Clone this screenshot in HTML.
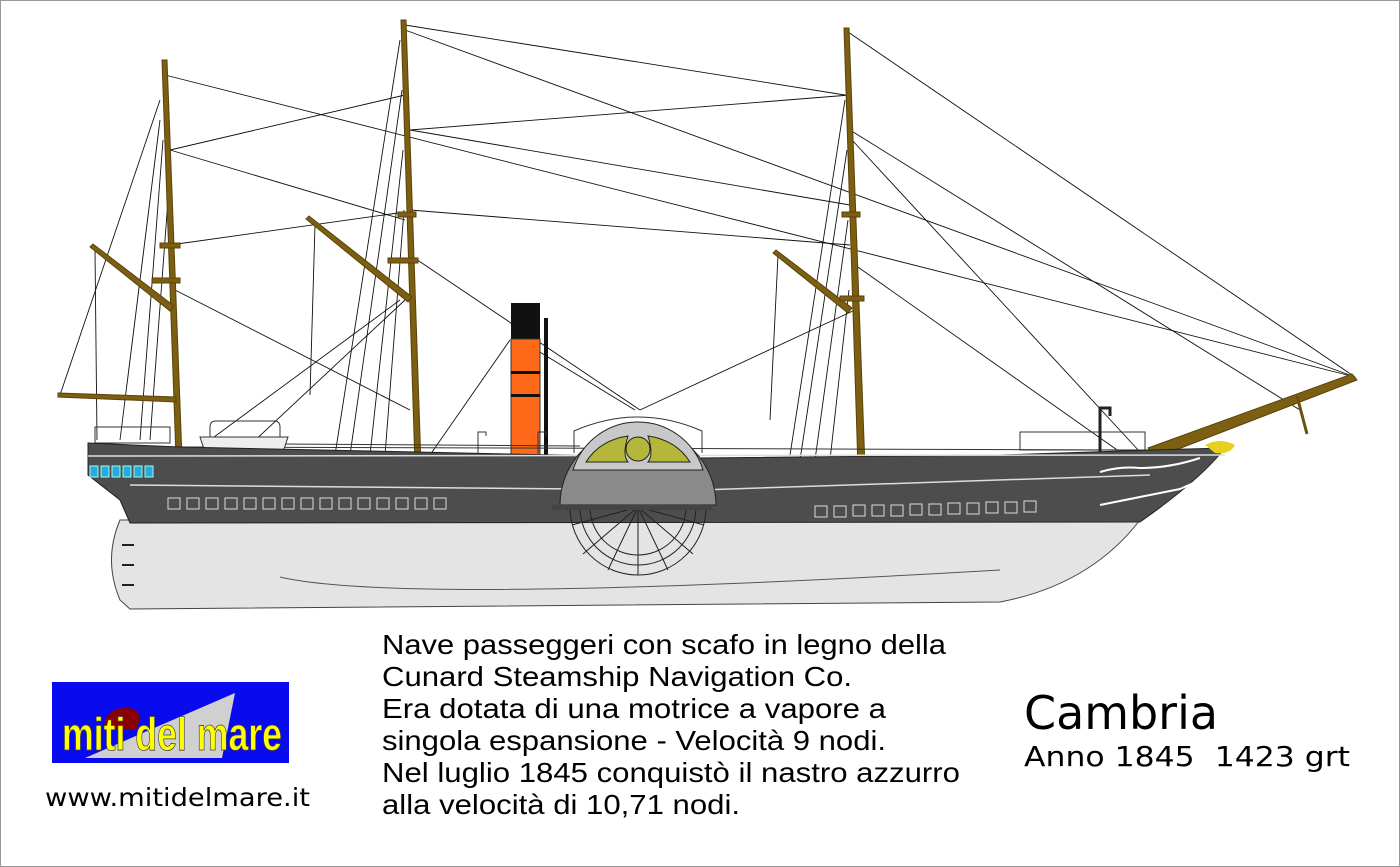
<!DOCTYPE html>
<html><head><meta charset="utf-8"><style>
html,body{margin:0;padding:0;background:#fff}
svg{display:block}
text{font-family:"Liberation Sans",sans-serif}
</style></head><body>
<svg width="1400" height="867" viewBox="0 0 1400 867" xmlns="http://www.w3.org/2000/svg">
<rect x="0.5" y="0.5" width="1399" height="866" fill="#fff" stroke="#999"/>
<!-- rigging -->
<g stroke="#111" stroke-width="0.9" fill="none">
<line x1="165" y1="75" x2="1355" y2="377"/>
<line x1="405" y1="25" x2="845" y2="95"/>
<line x1="405" y1="30" x2="1355" y2="377"/>
<line x1="848" y1="32" x2="1355" y2="377"/>
<line x1="850" y1="130" x2="1300" y2="410"/>
<line x1="852" y1="140" x2="1140" y2="452"/>
<line x1="855" y1="265" x2="1120" y2="452"/>
<line x1="850" y1="95" x2="410" y2="130"/>
<line x1="170" y1="150" x2="405" y2="95"/>
<line x1="170" y1="150" x2="405" y2="220"/>
<line x1="170" y1="245" x2="405" y2="212"/>
<line x1="410" y1="130" x2="850" y2="205"/>
<line x1="410" y1="210" x2="850" y2="245"/>
<line x1="175" y1="290" x2="410" y2="410"/>
<line x1="410" y1="255" x2="640" y2="410"/>
<line x1="855" y1="310" x2="640" y2="410"/>
<line x1="520" y1="340" x2="635" y2="410"/>
<line x1="160" y1="100" x2="60" y2="395"/>
<line x1="160" y1="120" x2="120" y2="440"/>
<line x1="163" y1="140" x2="140" y2="440"/>
<line x1="168" y1="200" x2="150" y2="440"/>
<line x1="95" y1="250" x2="97" y2="440"/>
<line x1="400" y1="40" x2="335" y2="455"/>
<line x1="402" y1="90" x2="350" y2="455"/>
<line x1="403" y1="150" x2="370" y2="455"/>
<line x1="404" y1="210" x2="385" y2="455"/>
<line x1="315" y1="225" x2="310" y2="395"/>
<line x1="400" y1="300" x2="210" y2="440"/>
<line x1="405" y1="300" x2="250" y2="445"/>
<line x1="845" y1="100" x2="790" y2="455"/>
<line x1="847" y1="150" x2="800" y2="460"/>
<line x1="848" y1="220" x2="815" y2="460"/>
<line x1="849" y1="290" x2="830" y2="460"/>
<line x1="778" y1="255" x2="770" y2="420"/>
<line x1="510" y1="340" x2="430" y2="455"/>
</g>
<!-- masts -->
<g stroke="#5a430a" stroke-width="1" fill="#7d5f12">
<polygon points="162,60 167,60 182,458 176,458"/>
<polygon points="401,20 406,20 421,466 415,466"/>
<polygon points="844,28 849,28 865,468 858,468"/>
<polygon points="90,247 93,244 174,306 170,311"/>
<polygon points="58,393 176,397 176,402 58,397"/>
<polygon points="306,219 309,216 412,297 408,302"/>
<polygon points="773,253 776,250 852,308 848,313"/>
<rect x="160" y="243" width="20" height="5"/><rect x="152" y="278" width="28" height="5"/>
<rect x="398" y="212" width="18" height="5"/><rect x="388" y="258" width="30" height="5"/>
<rect x="842" y="212" width="18" height="5"/><rect x="840" y="296" width="24" height="5"/>
<polygon points="1148,448 1352,374 1357,380 1155,458"/>
<line x1="1297" y1="396" x2="1307" y2="434" stroke-width="3" stroke="#6b520e"/>
</g>
<!-- funnel -->
<rect x="511" y="303" width="29" height="36" fill="#111"/>
<rect x="511" y="339" width="29" height="118" fill="#ff6a1a" stroke="#333"/>
<rect x="511" y="371" width="29" height="3" fill="#111"/><rect x="511" y="394" width="29" height="3" fill="#111"/>
<rect x="544" y="318" width="4" height="152" fill="#111"/>
<!-- railings -->
<g stroke="#333" stroke-width="1" fill="none">
<rect x="95" y="427" width="75" height="16"/>
<line x1="180" y1="447" x2="1150" y2="450"/>
<line x1="280" y1="444" x2="580" y2="446"/>
<rect x="1020" y="432" width="125" height="18"/>
<path d="M478 470 V432 h8 v4"/><path d="M538 470 V432 h8 v4"/>
<path d="M1100 452 V408 h10 v8" stroke="#222" stroke-width="3"/>
</g>
<!-- lifeboats -->
<path d="M200 437 L288 437 L283 452 Q245 458 205 452 Z" fill="#eee" stroke="#333"/>
<path d="M210 437 v-10 q0-6 6-6 h58 q6 0 6 6 v10" fill="none" stroke="#333"/>
<path d="M462 456 L540 456 L535 466 L467 466 Z" fill="#eee" stroke="#333"/>
<!-- hull lower -->
<path d="M120 520 L1140 520 Q1090 585 1000 602 L130 609 L120 600 Q103 560 120 520 Z" fill="#e4e4e4" stroke="#444"/>
<path d="M280 577 Q400 605 1000 570" fill="none" stroke="#555"/>
<!-- hull upper -->
<path d="M88 443 L180 447 L700 458 L1000 455 L1150 450 L1225 448 Q1200 480 1140 522 L130 523 L120 500 L88 475 Z" fill="#4d4d4d" stroke="#222"/>
<line x1="88" y1="456" x2="1225" y2="455" stroke="#ddd" stroke-width="1.5"/>
<path d="M130 485 L700 490 L1150 475" fill="none" stroke="#ddd" stroke-width="1.5"/>
<g fill="#2aa8e0" stroke="#9fe"><rect x="90" y="466" width="8" height="11"/><rect x="101" y="466" width="8" height="11"/><rect x="112" y="466" width="8" height="11"/><rect x="123" y="466" width="8" height="11"/><rect x="134" y="466" width="8" height="11"/><rect x="145" y="466" width="8" height="11"/></g>
<g fill="none" stroke="#ddd">
<rect x="168" y="498" width="12" height="11"/><rect x="187" y="498" width="12" height="11"/><rect x="206" y="498" width="12" height="11"/><rect x="225" y="498" width="12" height="11"/><rect x="244" y="498" width="12" height="11"/><rect x="263" y="498" width="12" height="11"/><rect x="282" y="498" width="12" height="11"/><rect x="301" y="498" width="12" height="11"/><rect x="320" y="498" width="12" height="11"/><rect x="339" y="498" width="12" height="11"/><rect x="358" y="498" width="12" height="11"/><rect x="377" y="498" width="12" height="11"/><rect x="396" y="498" width="12" height="11"/><rect x="415" y="498" width="12" height="11"/><rect x="434" y="498" width="12" height="11"/>
<rect x="815" y="506" width="12" height="11"/><rect x="834" y="506" width="12" height="11"/><rect x="853" y="505" width="12" height="11"/><rect x="872" y="505" width="12" height="11"/><rect x="891" y="505" width="12" height="11"/><rect x="910" y="504" width="12" height="11"/><rect x="929" y="504" width="12" height="11"/><rect x="948" y="503" width="12" height="11"/><rect x="967" y="503" width="12" height="11"/><rect x="986" y="502" width="12" height="11"/><rect x="1005" y="502" width="12" height="11"/><rect x="1024" y="501" width="12" height="11"/>
<path d="M1100 472 q20-6 40-4 q30 0 60-10 M1100 505 q40-8 80-16 q20-8 40-22" stroke="#fff" stroke-width="2"/>
</g>
<path d="M1205 445 q15-8 30 0 q-5 10-20 8 z" fill="#e8d020"/>
<!-- rudder marks -->
<g stroke="#222" stroke-width="2"><line x1="122" y1="545" x2="134" y2="545"/><line x1="122" y1="565" x2="134" y2="565"/><line x1="122" y1="585" x2="134" y2="585"/></g>
<!-- paddle wheel -->
<g stroke="#222" stroke-width="1" fill="none">
<path d="M570 507 A68 68 0 0 0 706 507"/><path d="M580 507 A58 58 0 0 0 696 507"/><path d="M590 507 A48 48 0 0 0 686 507"/>
<line x1="638" y1="507" x2="638" y2="575"/><line x1="638" y1="507" x2="572" y2="525"/><line x1="638" y1="507" x2="704" y2="525"/>
<line x1="638" y1="507" x2="583" y2="554"/><line x1="638" y1="507" x2="693" y2="554"/><line x1="638" y1="507" x2="608" y2="570"/><line x1="638" y1="507" x2="668" y2="570"/>
</g>
<!-- paddle box -->
<path d="M574 453 v-22 q64-28 128 0 v22" fill="none" stroke="#333"/>
<path d="M560 505 A78 78 0 0 1 716 505 Z" fill="#8a8a8a" stroke="#222"/>
<path d="M573 470 A68 68 0 0 1 703 470 Z" fill="#c8c8c8" stroke="#222"/>
<path d="M586 462 Q600 440 628 436 Q622 455 628 462 Z" fill="#b4b73a" stroke="#222"/>
<path d="M690 462 Q676 440 648 436 Q654 455 648 462 Z" fill="#b4b73a" stroke="#222"/>
<circle cx="638" cy="449" r="12" fill="#b4b73a" stroke="#222"/>
<rect x="552" y="505" width="160" height="5" fill="#444"/>
<!-- text -->
<g font-size="28" fill="#000">
<text x="382" y="654" textLength="564" lengthAdjust="spacingAndGlyphs">Nave passeggeri con scafo in legno della</text>
<text x="382" y="686" textLength="470" lengthAdjust="spacingAndGlyphs">Cunard Steamship Navigation Co.</text>
<text x="382" y="718" textLength="504" lengthAdjust="spacingAndGlyphs">Era dotata di una motrice a vapore a</text>
<text x="382" y="750" textLength="504" lengthAdjust="spacingAndGlyphs">singola espansione - Velocità 9 nodi.</text>
<text x="382" y="782" textLength="578" lengthAdjust="spacingAndGlyphs">Nel luglio 1845 conquistò il nastro azzurro</text>
<text x="382" y="814" textLength="358" lengthAdjust="spacingAndGlyphs">alla velocità di 10,71 nodi.</text>
</g>
<text x="1024" y="729" font-size="46" textLength="194" lengthAdjust="spacingAndGlyphs" style="font-family:'DejaVu Sans',sans-serif">Cambria</text>
<text x="1024" y="766" font-size="28" textLength="326" lengthAdjust="spacingAndGlyphs" style="font-family:'DejaVu Sans',sans-serif;white-space:pre" xml:space="preserve">Anno 1845  1423 grt</text>
<text x="45" y="806" font-size="25" textLength="265" lengthAdjust="spacingAndGlyphs" style="font-family:'DejaVu Sans',sans-serif">www.mitidelmare.it</text>
<!-- logo -->
<rect x="52" y="682" width="237" height="81" fill="#0a0af0"/>
<polygon points="235,693 222,758 85,758" fill="#d0d0d0"/>
<path d="M104 730 q0-22 22-22 q20 0 10 22 z" fill="#8a0000"/>
<text x="62" y="750" font-size="46" font-weight="bold" fill="#ffff00" stroke="#444" stroke-width="0.8" textLength="220" lengthAdjust="spacingAndGlyphs" style="font-family:'Liberation Sans Narrow','Liberation Sans',sans-serif">miti del mare</text>
</svg>
</body></html>
